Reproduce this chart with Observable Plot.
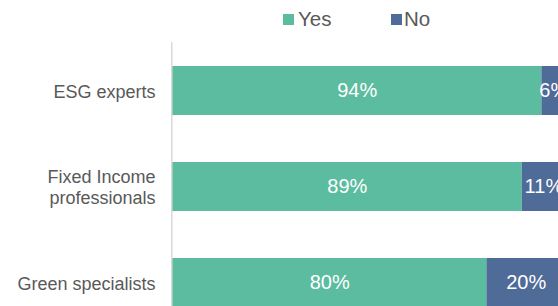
<!DOCTYPE html>
<html>
<head>
<meta charset="utf-8">
<script src="https://cdn.jsdelivr.net/npm/d3@7"></script>
<script src="https://cdn.jsdelivr.net/npm/@observablehq/plot@0.6"></script>
<style>
  html, body { margin: 0; padding: 0; background: white; }
  #wrap { position: relative; width: 558px; height: 306px; overflow: hidden; font-family: "Liberation Sans", Arial, sans-serif; }
  #legend { position: absolute; left: 0; top: 0; width: 558px; height: 42px; }
  .sw { position: absolute; top: 14px; width: 11px; height: 11px; }
  .lt { position: absolute; top: 6px; font-size: 20.5px; line-height: 26px; color: #595959; }
  #chart { position: absolute; left: 0; top: 42px; width: 558px; height: 264px; overflow: hidden; }
</style>
</head>
<body>
<div id="wrap">
  <div id="legend"></div>
  <div id="chart"></div>
</div>
<script>
const categories = ["ESG experts", "Fixed Income professionals", "Green specialists"];
const categoryLabels = ["ESG experts", "Fixed Income\nprofessionals", "Green specialists"];
const answers = ["Yes", "No"];
const yesValues = [94, 89, 80];
const noValues = [6, 11, 20];
const colors = ["#5cbc9f", "#4f6b98"];

const data = [];
categories.forEach((c, i) => {
  data.push({group: c, answer: "Yes", value: yesValues[i]});
  data.push({group: c, answer: "No", value: noValues[i]});
});
const labelOf = new Map(categories.map((c, i) => [c, categoryLabels[i]]));

// legend
const legend = document.getElementById("legend");
const legendPos = [{sw: 283, tx: 298}, {sw: 391, tx: 404}];
answers.forEach((a, i) => {
  const s = document.createElement("div");
  s.className = "sw"; s.style.left = legendPos[i].sw + "px"; s.style.background = colors[i];
  const t = document.createElement("div");
  t.className = "lt"; t.style.left = legendPos[i].tx + "px"; t.textContent = a;
  legend.appendChild(s); legend.appendChild(t);
});

const plot = Plot.plot({
  width: 558,
  height: 264,
  marginTop: 0, marginBottom: 0, marginLeft: 0, marginRight: 0,
  style: {fontFamily: "Liberation Sans, Arial, sans-serif", background: "white", overflow: "hidden"},
  x: {domain: [0, 100], range: [172, 565], axis: null},
  y: {domain: categories, range: [0, 289], paddingInner: 0.49, paddingOuter: 0.25, axis: null},
  color: {domain: answers, range: colors},
  marks: [
    Plot.barX(data, Plot.stackX({x: "value", y: "group", fill: "answer", order: answers})),
    Plot.textX(data, Plot.stackX({x: "value", y: "group", z: "answer", order: answers, text: d => d.value + "%", fill: "white", fontSize: 20})),
    Plot.text(categories, {x: 0, y: d => d, text: d => labelOf.get(d), textAnchor: "end", dx: -17, fontSize: 18, fill: "#595959", lineHeight: 1.17}),
    Plot.ruleX([0], {stroke: "#d9d9d9", strokeWidth: 1.5, dx: -0.75})
  ]
});
document.getElementById("chart").appendChild(plot);
</script>
</body>
</html>
